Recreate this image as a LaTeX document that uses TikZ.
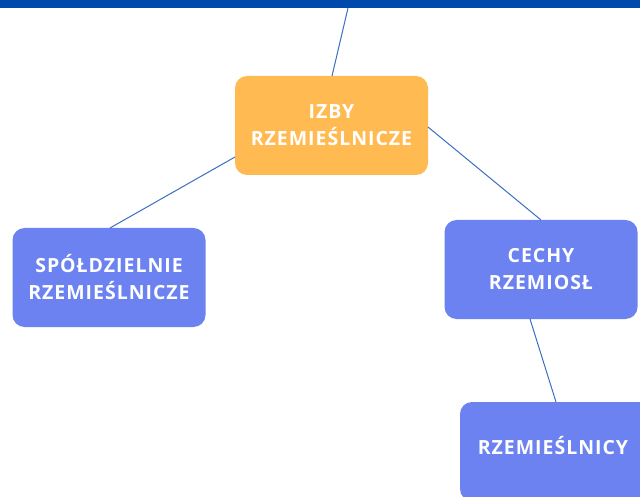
\documentclass[tikz,border=0pt]{standalone}
\usepackage{fontspec}
\setmainfont{Open Sans}[LetterSpace=5]
\definecolor{topbar}{HTML}{004AAD}
\definecolor{orangebox}{HTML}{FFBA52}
\definecolor{bluebox}{HTML}{6B82F0}
\definecolor{linkcol}{HTML}{3A6FC0}
\begin{document}
\begin{tikzpicture}[x=1pt,y=-1pt,
  boxstyle/.style={rounded corners=12pt, minimum width=193pt, minimum height=99pt,
    inner sep=0pt, text=white, align=center,
    font=\fontsize{19.5}{27}\selectfont\bfseries},
  link/.style={draw=linkcol, line width=1pt}]
\useasboundingbox (0,0) rectangle (640,497);
\fill[topbar] (0,0) rectangle (640,8);
\coordinate (top) at (348,8);
\node[boxstyle, fill=orangebox] (izby) at (331.5,125.5) {IZBY\\RZEMIEŚLNICZE};
\node[boxstyle, fill=bluebox] (spol) at (109,277.5) {SPÓŁDZIELNIE\\RZEMIEŚLNICZE};
\node[boxstyle, fill=bluebox] (cechy) at (541,269.5) {CECHY\\RZEMIOSŁ};
\node[boxstyle, fill=bluebox] (rzem) at (556.5,451.5) {};
\node[text=white, font=\fontsize{19.5}{27}\selectfont\bfseries] (rzemt) at (553,446) {RZEMIEŚLNICY};
\draw[link] (top) -- (332,76);
\draw[link] (235,157) -- (110,228);
\draw[link] (428,127) -- (541,220);
\draw[link] (530,319) -- (556,402);
\end{tikzpicture}
\end{document}
